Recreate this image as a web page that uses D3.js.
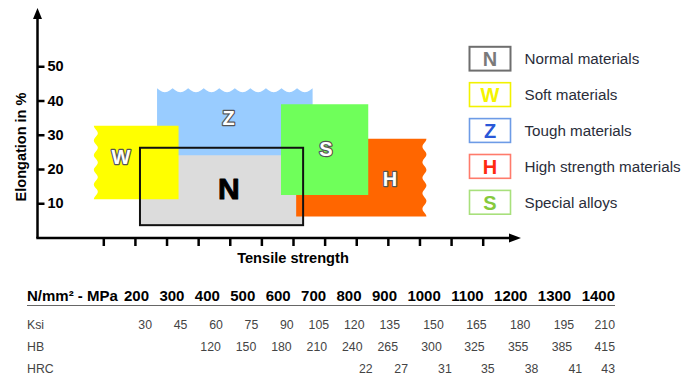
<!DOCTYPE html>
<html><head><meta charset="utf-8">
<script src="https://cdn.jsdelivr.net/npm/d3@7"></script>
<style>
html,body{margin:0;padding:0;background:#fff;}
svg{display:block;font-family:"Liberation Sans",Arial,Helvetica,sans-serif;}
</style></head>
<body>
<svg id="chart" width="691" height="386"></svg>
<script>
// ---------- data ----------
const mpa = [200,300,400,500,600,700,800,900,1000,1100,1200,1300,1400];
const ksi = [30,45,60,75,90,105,120,135,150,165,180,195,210];
const hb  = [null,null,120,150,180,210,240,265,300,325,355,385,415];
const hrc = [null,null,null,null,null,null,22,27,31,35,38,41,43];
const yTicks = [10,20,30,40,50];

// material regions: tensile strength range (MPa) and elongation range (%)
const codes   = ["N","Z","W","H","S"];
const names   = ["Normal materials","Tough materials","Soft materials","High strength materials","Special alloys"];
const xFrom   = [316, 370, 170, 810, 762];
const xTo     = [832, 862, 438, 1222, 1038];
const yFrom   = [3.6, 24, 11.2, 6.1, 12.4];
const yTo     = [26.2, 43.6, 32.6, 28.8, 38.9];
const labelX  = [597, 596, 256, 1107, 904];
const labelY  = [14.2, 34.9, 23.6, 17.2, 25.8];
const wavySide = {Z:"top", W:"left", H:"right"};

const legendOrder = ["N","W","Z","H","S"];

// ---------- styles ----------
const fillColor = {N:"#dcdcdc", Z:"#99ccff", W:"#ffff00", H:"#ff6600", S:"#6fff5a"};
const legendStroke = {N:"#6e6e6e", W:"#f2f200", Z:"#6d9be6", H:"#ff7b6b", S:"#a8e07c"};
const legendLetter = {N:"#7a7a7a", W:"#f4f400", Z:"#2a58d8", H:"#ff2a10", S:"#86c93c"};

const svg = d3.select("#chart");
const x = d3.scaleLinear().domain([200,1400]).range([103.3,482.7]);
const y = d3.scaleLinear().domain([0,50]).range([237.5,66.25]);
const axisX0 = 37.5, axisY0 = 238;

// ---------- wavy rectangle path ----------
function regionPath(i){
  const c = codes[i];
  const L = x(xFrom[i]), R = x(xTo[i]), T = y(yTo[i]), B = y(yFrom[i]);
  const side = wavySide[c];
  const p = d3.path();
  const per = 15.5, amp = 4;
  if(side === "top"){
    p.moveTo(L,B); p.lineTo(L,T);
    const n = Math.round((R-L)/per), step = (R-L)/n;
    for(let k=0;k<=n*12;k++){
      const t = k/12*step;
      p.lineTo(L+t, T + amp*Math.abs(Math.sin(Math.PI*t/step)));
    }
    p.lineTo(R,B); p.closePath();
  } else if(side === "left"){
    const n = Math.round((B-T)/per), step=(B-T)/n;
    p.moveTo(R,T); p.lineTo(L,T);
    for(let k=0;k<=n*12;k++){
      const t = k/12*step;
      p.lineTo(L + amp*0.5 - amp*0.5*Math.cos(2*Math.PI*t/step) , T+t);
    }
    p.lineTo(R,B); p.closePath();
  } else if(side === "right"){
    const n = Math.round((B-T)/per), step=(B-T)/n;
    p.moveTo(L,T); p.lineTo(R,T);
    for(let k=0;k<=n*12;k++){
      const t = k/12*step;
      p.lineTo(R - amp*0.5 + amp*0.5*Math.cos(2*Math.PI*t/step) , T+t);
    }
    p.lineTo(L,B); p.closePath();
  } else {
    p.rect(L,T,R-L,B-T);
  }
  return p.toString();
}

// draw order: N fill, Z, W, H, S
const idx = d3.range(codes.length);
svg.append("g").selectAll("path").data(idx).join("path")
  .attr("d", regionPath)
  .attr("fill", i => fillColor[codes[i]]);

// N outline on top
const ni = codes.indexOf("N");
svg.append("rect")
  .attr("x", x(xFrom[ni])).attr("y", y(yTo[ni]))
  .attr("width", x(xTo[ni]) - x(xFrom[ni]))
  .attr("height", y(yFrom[ni]) - y(yTo[ni]))
  .attr("fill","none").attr("stroke","#111").attr("stroke-width",2);

// region letters
svg.append("g").selectAll("text").data(idx).join("text")
  .attr("x", i => x(labelX[i])).attr("y", i => y(labelY[i]))
  .attr("text-anchor","middle").attr("dominant-baseline","central")
  .attr("font-weight", i => codes[i]==="N" ? 900 : 700)
  .attr("font-size", i => codes[i]==="N" ? 30 : 20)
  .attr("fill", i => codes[i]==="N" ? "#000" : "#fff")
  .attr("stroke", i => codes[i]==="N" ? "#000" : "#555")
  .attr("stroke-width", i => codes[i]==="N" ? 1 : 2.4)
  .attr("paint-order","stroke")
  .attr("stroke-linejoin","round")
  .text(i => codes[i]);

// ---------- axes ----------
const gx = svg.append("g").attr("transform",`translate(0,${axisY0})`)
  .call(d3.axisBottom(x).tickValues(mpa).tickFormat("").tickSizeInner(8).tickSizeOuter(0));
gx.select(".domain").remove();
gx.selectAll(".tick line").attr("stroke","#000").attr("stroke-width",2.5);

const gy = svg.append("g").attr("transform",`translate(${axisX0},0)`)
  .call(d3.axisRight(y).tickValues(yTicks).tickSizeInner(7).tickSizeOuter(0).tickPadding(3));
gy.select(".domain").remove();
gy.selectAll(".tick line").attr("stroke","#000").attr("stroke-width",2.5);
gy.selectAll(".tick text").attr("font-size",14.5).attr("font-weight",700).attr("fill","#000")
  .attr("font-family","'Liberation Sans',Arial,sans-serif");

// axis lines with arrows
svg.append("line").attr("x1",axisX0).attr("y1",axisY0).attr("x2",axisX0).attr("y2",16)
  .attr("stroke","#000").attr("stroke-width",2.5);
svg.append("line").attr("x1",axisX0-1.2).attr("y1",axisY0).attr("x2",512).attr("y2",axisY0)
  .attr("stroke","#000").attr("stroke-width",2.5);
svg.append("path").attr("d",`M${axisX0},8 L${axisX0-4.5},19 L${axisX0+4.5},19 Z`).attr("fill","#000");
svg.append("path").attr("d",`M521,${axisY0} L509,${axisY0-4.5} L509,${axisY0+4.5} Z`).attr("fill","#000");

svg.append("text").attr("transform","translate(26,147) rotate(-90)")
  .attr("text-anchor","middle").attr("font-size",14.5).attr("font-weight",700)
  .text("Elongation in %");
svg.append("text").attr("x",293).attr("y",263)
  .attr("text-anchor","middle").attr("font-size",14.6).attr("font-weight",700)
  .text("Tensile strength");

// ---------- legend ----------
const lg = svg.append("g");
const li = lg.selectAll("g").data(legendOrder).join("g")
  .attr("transform",(d,k)=>`translate(469.5,${46.8 + k*35.9})`);
li.append("rect").attr("width",41).attr("height",23.8)
  .attr("fill","#fff").attr("stroke",d=>legendStroke[d]).attr("stroke-width",d=>d==="N"?2:1.6);
li.append("text").attr("x",20.5).attr("y",12.4).attr("text-anchor","middle")
  .attr("dominant-baseline","central").attr("font-size",20).attr("font-weight",700)
  .attr("fill",d=>legendLetter[d]).text(d=>d);
li.append("text").attr("x",55).attr("y",12).attr("dominant-baseline","central")
  .attr("font-size",15.2).attr("fill","#2a2d3a")
  .text(d=>names[codes.indexOf(d)]);

// ---------- table ----------
const tbl = svg.append("g");
const headY = 300.5;
tbl.append("text").attr("x",27).attr("y",headY).attr("font-size",15).attr("font-weight",700)
  .text("N/mm² - MPa");
const heads = tbl.selectAll("text.h").data(mpa).join("text").attr("class","h")
  .attr("y",headY).attr("font-size",15).attr("font-weight",700).text(d=>d);
const widths = heads.nodes().map(n=>n.getComputedTextLength());
const startX = 124, endX = 615;
const gap = (endX - startX - d3.sum(widths)) / (mpa.length - 1);
const colRight = [];
let cx = startX;
widths.forEach((w,k)=>{ colRight.push(cx + w); cx += w + gap; });
heads.attr("x",(d,k)=>colRight[k]).attr("text-anchor","end");

tbl.append("line").attr("x1",27).attr("x2",615).attr("y1",305.5).attr("y2",305.5)
  .attr("stroke","#666").attr("stroke-width",1.2);

const rows = [
  {label:"Ksi", vals:ksi, y:328.5, shift:3},
  {label:"HB",  vals:hb,  y:350.5, shift:1},
  {label:"HRC", vals:hrc, y:373,   shift:11}
];
rows.forEach(r=>{
  tbl.append("text").attr("x",27).attr("y",r.y).attr("font-size",12.3).attr("fill","#444").text(r.label);
  tbl.selectAll(null).data(r.vals.map((v,k)=>({v,k})).filter(o=>o.v!==null)).join("text")
    .attr("x",o=>Math.min(colRight[o.k] + r.shift, endX))
    .attr("y",r.y).attr("text-anchor","end").attr("font-size",12.3).attr("fill","#444")
    .text(o=>o.v);
});
</script>
</body></html>
